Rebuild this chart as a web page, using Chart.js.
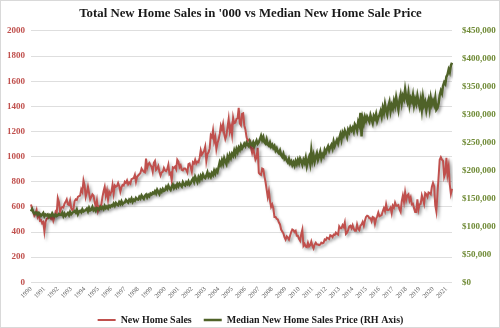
<!DOCTYPE html>
<html>
<head>
<meta charset="utf-8">
<script src="https://cdn.jsdelivr.net/npm/chart.js@4"></script>
<style>
  html, body { margin: 0; padding: 0; background: #fff; }
  canvas { display: block; }
</style>
</head>
<body>
<canvas id="salesChart" width="500" height="328"></canvas>
<script>
// year ticks along the bottom, one per January
const years = [1990, 1991, 1992, 1993, 1994, 1995, 1996, 1997, 1998, 1999,
    2000, 2001, 2002, 2003, 2004, 2005, 2006, 2007, 2008, 2009,
    2010, 2011, 2012, 2013, 2014, 2015, 2016, 2017, 2018, 2019,
    2020, 2021];

// new home sales, '000 (monthly, Jan..Dec per row)
const sales1990s = [
    620, 585, 560, 530, 545, 575, 520, 540, 490, 495, 470, 480,
    405, 480, 505, 510, 520, 515, 505, 525, 490, 520, 560, 545,
    670, 640, 560, 590, 600, 595, 625, 640, 660, 620, 615, 650,
    590, 575, 585, 645, 660, 655, 680, 685, 690, 740, 720, 810,
    770, 680, 715, 760, 710, 660, 680, 700, 690, 640, 600, 650,
    570, 600, 590, 620, 680, 725, 760, 690, 730, 660, 720, 700,
    720, 775, 705, 770, 760, 765, 790, 765, 720, 755, 775, 770,
    800, 790, 810, 780, 795, 785, 820, 825, 830, 855, 800, 840,
    850, 860, 870, 905, 890, 880, 875, 985, 910, 940, 950, 930,
    920, 880, 950, 965, 895, 905, 925, 880, 850, 875, 880, 910
];
const sales2000s = [
    890, 885, 900, 935, 860, 870, 810, 915, 910, 920, 900, 975,
    960, 915, 930, 895, 890, 905, 905, 895, 875, 940, 945, 915,
    880, 955, 945, 975, 945, 960, 955, 990, 1050, 1015, 1030, 1045,
    1080, 965, 1020, 1035, 1065, 1170, 1155, 1210, 1120, 1155, 1060, 1110,
    1135, 1180, 1245, 1215, 1260, 1180, 1140, 1170, 1235, 1300, 1200, 1240,
    1175, 1310, 1265, 1270, 1300, 1305, 1389, 1265, 1250, 1340, 1345, 1250,
    1215, 1155, 1125, 1135, 1130, 1070, 1030, 1070, 1020, 975, 995, 1070,
    870, 860, 855, 905, 900, 845, 800, 740, 680, 725, 650, 600,
    620, 590, 520, 520, 505, 500, 475, 460, 420, 405, 390, 360,
    340, 365, 355, 340, 370, 400, 420, 415, 400, 410, 370, 370
];
const sales2010s = [
    345, 330, 385, 420, 290, 305, 285, 280, 315, 285, 295, 325,
    290, 270, 300, 315, 300, 300, 295, 300, 315, 310, 315, 340,
    335, 355, 350, 345, 375, 370, 360, 380, 375, 395, 385, 380,
    445, 430, 430, 455, 440, 475, 385, 395, 415, 445, 450, 430,
    455, 425, 410, 410, 460, 425, 415, 450, 460, 480, 450, 490,
    520, 530, 525, 510, 510, 485, 520, 515, 465, 505, 525, 555,
    525, 530, 535, 565, 590, 565, 620, 575, 575, 580, 595, 550,
    610, 595, 635, 610, 610, 615, 580, 560, 645, 690, 640, 715,
    655, 690, 700, 650, 675, 620, 625, 590, 560, 560, 660, 580,
    620, 625, 690, 660, 625, 710, 700, 680, 715, 710, 700, 760
];
const sales2020s = [
    790, 765, 615, 565, 705, 840, 975, 995, 975, 965, 840, 870,
    990, 860, 920, 780, 705, 745
];

// median new home sale price, $'000 (right axis)
const price1990s = [
    127.0, 131.0, 126.0, 123.0, 124.5, 125.0, 121.0, 124.0, 122.0, 119.0, 121.0, 124.0,
    118.0, 121.3, 119.9, 121.5, 117.0, 120.5, 118.9, 123.4, 119.8, 118.0, 121.4, 118.5,
    119.9, 122.5, 121.0, 120.8, 124.5, 118.6, 122.9, 119.0, 121.4, 124.0, 120.2, 125.9,
    121.9, 124.3, 126.0, 127.5, 125.0, 129.9, 122.4, 126.9, 128.0, 125.4, 130.6, 126.8,
    128.0, 129.5, 131.9, 127.0, 133.5, 128.9, 130.2, 134.9, 129.1, 131.6, 127.9, 133.0,
    131.9, 130.0, 135.0, 132.0, 134.5, 131.2, 136.9, 133.0, 135.8, 132.4, 137.0, 134.8,
    138.0, 136.5, 140.9, 137.0, 142.0, 139.3, 138.0, 143.5, 140.2, 144.9, 139.9, 142.4,
    143.0, 147.5, 145.0, 142.9, 148.0, 145.5, 149.9, 144.0, 147.8, 146.0, 150.9, 148.4,
    148.0, 152.9, 150.0, 155.5, 151.9, 149.5, 154.8, 157.0, 152.0, 156.5, 153.9, 158.8,
    157.0, 160.5, 158.9, 163.0, 159.0, 165.4, 161.5, 158.0, 164.9, 162.0, 166.9, 163.5
];
const price2000s = [
    165.0, 170.5, 167.0, 172.9, 168.0, 165.5, 171.0, 174.8, 168.9, 173.0, 169.9, 176.0,
    172.0, 176.9, 174.0, 171.5, 179.0, 175.0, 173.5, 178.9, 176.0, 180.5, 174.9, 177.0,
    182.0, 185.5, 180.0, 188.9, 184.0, 179.5, 187.9, 183.0, 190.5, 186.0, 192.9, 188.0,
    186.5, 191.0, 196.9, 189.5, 193.0, 188.9, 195.5, 192.0, 199.9, 194.5, 201.0, 197.5,
    206.0, 214.9, 210.0, 218.5, 212.0, 221.9, 216.0, 211.5, 224.9, 219.0, 228.0, 222.5,
    230.0, 226.5, 235.9, 229.0, 238.5, 233.0, 241.0, 237.0, 244.9, 239.5, 243.0, 247.9,
    244.0, 249.9, 246.0, 243.5, 251.9, 247.0, 245.5, 250.5, 244.0, 249.0, 253.9, 248.0,
    250.9, 256.0, 262.0, 254.5, 259.9, 251.0, 248.5, 255.9, 247.0, 244.5, 250.0, 242.9,
    246.0, 240.5, 243.9, 236.0, 239.9, 233.5, 231.0, 235.9, 228.0, 224.5, 229.9, 221.0,
    223.9, 218.0, 214.5, 220.9, 213.0, 216.5, 210.0, 214.9, 208.9, 217.0, 211.5, 219.0
];
const price2010s = [
    213.0, 221.5, 216.9, 210.5, 219.0, 214.0, 222.9, 208.5, 217.5, 224.0, 212.9, 235.5,
    218.0, 227.5, 215.9, 224.0, 230.9, 219.5, 226.0, 233.5, 221.9, 229.0, 225.5, 236.9,
    232.0, 238.9, 243.5, 236.0, 241.9, 246.0, 239.5, 251.9, 244.0, 249.5, 255.0, 248.9,
    258.0, 264.9, 255.5, 268.0, 262.9, 271.5, 266.0, 259.9, 273.0, 268.5, 276.9, 272.0,
    276.5, 269.9, 283.0, 279.5, 272.0, 286.9, 281.0, 303.5, 261.0, 292.9, 284.5, 296.0,
    289.0, 296.5, 292.0, 287.5, 299.0, 291.9, 285.0, 297.5, 293.0, 300.9, 288.5, 295.0,
    299.0, 305.9, 296.5, 312.0, 303.5, 318.9, 308.0, 300.5, 315.0, 322.9, 306.5, 317.0,
    311.0, 324.5, 316.0, 330.9, 319.5, 309.0, 326.0, 335.9, 321.0, 333.5, 328.0, 345.0,
    331.0, 323.5, 337.9, 318.0, 329.5, 324.0, 335.0, 316.9, 327.5, 320.0, 333.9, 322.5,
    314.0, 326.9, 309.5, 331.0, 317.0, 322.9, 308.0, 319.5, 327.0, 311.5, 329.9, 318.0
];
const price2020s = [
    325.0, 318.0, 330.0, 309.0, 312.0, 320.0, 335.0, 343.0, 338.0, 352.0, 358.0, 355.0,
    368.0, 372.0, 381.0, 376.0, 388.0, 393.0
];

const sales = [...sales1990s, ...sales2000s, ...sales2010s, ...sales2020s];
const prices = [...price1990s, ...price2000s, ...price2010s, ...price2020s];
const labels = years.flatMap(y => [String(y), '', '', '', '', '', '', '', '', '', '', ''])
    .slice(0, sales.length);

const serif = "'Liberation Serif', 'Times New Roman', serif";

// soft drop shadow under each line
const lineShadow = {
    id: 'lineShadow',
    beforeDatasetDraw(chart) {
        const c = chart.ctx;
        c.save();
        c.shadowColor = 'rgba(0,0,0,0.35)';
        c.shadowBlur = 3;
        c.shadowOffsetX = 2;
        c.shadowOffsetY = 2;
    },
    afterDatasetDraw(chart) {
        chart.ctx.restore();
    }
};

// thin grey frame round the whole picture
const frame = {
    id: 'frame',
    afterDraw(chart) {
        const c = chart.ctx;
        c.save();
        c.strokeStyle = '#d9d9d9';
        c.lineWidth = 1;
        c.strokeRect(0.5, 0.5, chart.width - 1, chart.height - 1);
        c.restore();
    }
};

const ctx = document.getElementById('salesChart').getContext('2d');
const myChart = new Chart(ctx, {
    type: 'line',
    data: {
        labels: labels,
        datasets: [{
            label: 'New Home Sales',
            data: sales,
            yAxisID: 'y',
            borderColor: '#c0504d',
            backgroundColor: '#c0504d',
            borderWidth: 2,
            pointRadius: 0,
            pointStyle: 'line',
            tension: 0,
            order: 2
        }, {
            label: 'Median New Home Sales Price (RH Axis)',
            data: prices,
            yAxisID: 'y1',
            borderColor: '#4f6228',
            backgroundColor: '#4f6228',
            borderWidth: 2.5,
            pointRadius: 0,
            pointStyle: 'line',
            tension: 0,
            order: 1
        }]
    },
    plugins: [lineShadow, frame],
    options: {
        responsive: false,
        animation: false,
        layout: { padding: { left: 5, right: 4, top: 0, bottom: -7 } },
        plugins: {
            title: {
                display: true,
                text: "Total New Home Sales in '000 vs Median New Home Sale Price",
                color: '#1a1a1a',
                font: { family: serif, size: 12.8, weight: 'bold', lineHeight: 1.2 },
                padding: { top: 6.3, bottom: 9.3 }
            },
            legend: {
                position: 'bottom',
                labels: {
                    usePointStyle: true,
                    pointStyleWidth: 18,
                    color: '#1a1a1a',
                    padding: 12,
                    font: { family: serif, size: 10, weight: 'bold' },
                    sort: (a, b) => a.datasetIndex - b.datasetIndex
                }
            },
            tooltip: { enabled: false }
        },
        scales: {
            x: {
                grid: { display: false, drawTicks: false },
                border: { display: false },
                ticks: {
                    autoSkip: false,
                    minRotation: 45,
                    maxRotation: 45,
                    padding: 3,
                    color: '#595959',
                    font: { family: serif, size: 6.5 }
                }
            },
            y: {
                position: 'left',
                min: 0,
                max: 2000,
                ticks: {
                    stepSize: 200,
                    color: '#c0504d',
                    padding: 6,
                    font: { family: serif, size: 9, weight: 'bold' },
                    callback: v => String(v)
                },
                grid: { color: '#dedede', drawTicks: false },
                border: { display: false },
                afterFit: s => { s.width = 26; }
            },
            y1: {
                position: 'right',
                min: 0,
                max: 450,
                ticks: {
                    stepSize: 50,
                    color: '#6f8a35',
                    padding: 10,
                    font: { family: serif, size: 9, weight: 'bold' },
                    callback: v => '$' + (v * 1000).toLocaleString('en-US')
                },
                grid: { drawOnChartArea: false, drawTicks: false },
                border: { display: false },
                afterFit: s => { s.width = 44; }
            }
        }
    }
});
</script>
</body>
</html>
